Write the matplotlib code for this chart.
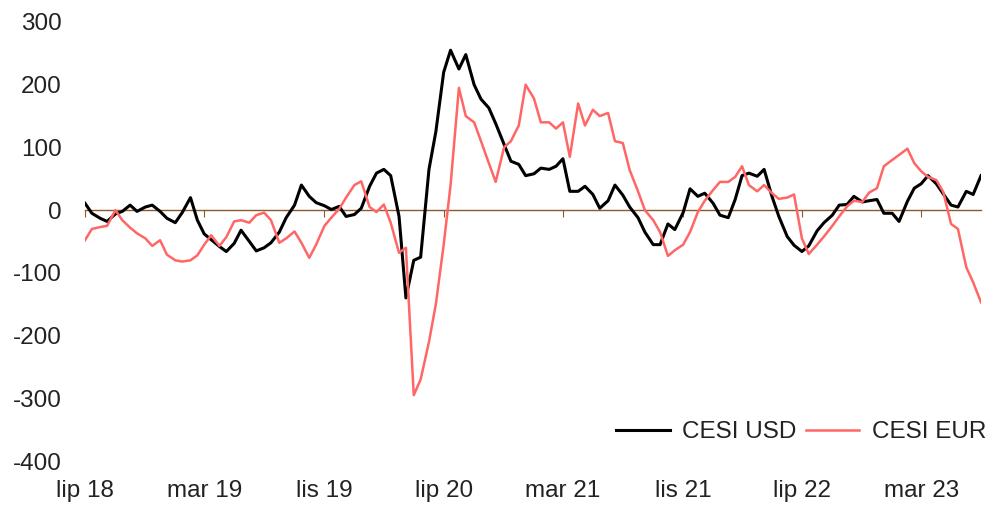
import numpy as np
import pandas as pd
import matplotlib
matplotlib.use('Agg')
import matplotlib.pyplot as plt
import matplotlib.dates as mdates

plt.rcParams['font.family'] = ['Liberation Sans', 'DejaVu Sans']
plt.rcParams['axes.unicode_minus'] = False

# semi-monthly readings, Jul 2018 - Jul 2023
dates = pd.date_range('2018-07-01', '2023-07-01', freq='SMS')

cesi_usd = [11, -5, -13, -18, -6, -2, 8, -2, 5, 8,
            -2, -13, -20, -4, 20, -16, -38, -47, -58, -66,
            -53, -32, -50, -65, -60, -52, -35, -12, 8, 40,
            22, 12, 7, 1, 6, -10, -7, 3, 38, 59,
            65, 55, -10, -140, -80, -75, 65, 125, 220, 255,
            225, 248, 200, 177, 163, 138, 105, 78, 73, 55,
            58, 67, 65, 70, 82, 30, 30, 38, 25, 3,
            15, 40, 24, 5, -12, -35, -55, -55, -22, -31,
            -4, 34, 22, 27, 11, -8, -12, 17, 55, 59,
            54, 65, 22, -10, -42, -56, -66, -57, -33, -20,
            -8, 8, 9, 22, 13, 15, 17, -5, -5, -18,
            14, 35, 42, 55, 42, 26, 8, 5, 30, 25,
            55]

cesi_eur = [-48, -30, -27, -25, 0, -16, -28, -37, -45, -57,
            -48, -71, -80, -82, -80, -72, -55, -40, -57, -43,
            -18, -16, -20, -8, -4, -16, -52, -45, -34, -52,
            -76, -55, -25, -12, 2, 20, 40, 46, 5, -3,
            9, -20, -68, -60, -295, -270, -210, -150, -55, 40,
            195, 150, 140, 110, 75, 45, 100, 110, 135, 200,
            178, 140, 140, 130, 140, 85, 170, 135, 160, 150,
            155, 110, 107, 64, 30, 0, -16, -35, -73, -64,
            -55, -35, -3, 15, 32, 45, 45, 53, 70, 40,
            30, 40, 27, 18, 20, 25, -45, -70, -55, -42,
            -25, -10, 6, 15, 13, 28, 35, 70, 80, 88,
            98, 75, 62, 53, 48, 29, -22, -30, -91, -115,
            -147]

tick_dates = pd.to_datetime(['2018-07-01', '2019-03-01', '2019-11-01', '2020-07-01',
                             '2021-03-01', '2021-11-01', '2022-07-01', '2023-03-01'])
tick_labels = ['lip 18', 'mar 19', 'lis 19', 'lip 20',
               'mar 21', 'lis 21', 'lip 22', 'mar 23']

x = mdates.date2num(dates)
xt = mdates.date2num(tick_dates)

brown = '#8B5A2B'
txt = '#222222'

fig = plt.figure(figsize=(9.9, 5.09), dpi=100)
ax = fig.add_axes([85/990, 48/509, (981-85)/990, (461-22)/509])

ax.plot(x, cesi_usd, color='black', lw=2.2, label='CESI USD', zorder=3)
ax.plot(x, cesi_eur, color='#FF6666', lw=1.8, label='CESI EUR', zorder=3)

ax.set_xlim(x[0], x[-1])
ax.set_ylim(-400, 300)
ax.set_yticks(range(-400, 301, 100))

for s in ['top', 'right', 'left']:
    ax.spines[s].set_visible(False)
ax.spines['bottom'].set_position(('data', 0))
ax.spines['bottom'].set_color(brown)
ax.spines['bottom'].set_linewidth(1)

ax.set_xticks(xt)
ax.tick_params(axis='x', direction='out', length=5, color=brown, labelbottom=False)
ax.tick_params(axis='y', length=0, pad=17, labelsize=17.5, labelcolor=txt)

sec = ax.secondary_xaxis('bottom')
sec.set_xticks(xt, labels=tick_labels)
sec.tick_params(length=0, pad=14, labelsize=17.5, labelcolor=txt)
sec.spines['bottom'].set_visible(False)

leg = ax.legend(loc='center right', bbox_to_anchor=(986/990, 1 - 432/509),
                bbox_transform=fig.transFigure, ncol=2, frameon=False,
                fontsize=17.5, handlelength=2.2, handletextpad=0.5,
                columnspacing=0.4, borderpad=0, borderaxespad=0)
for t in leg.get_texts():
    t.set_color(txt)

fig.savefig('out.png', dpi=100)
